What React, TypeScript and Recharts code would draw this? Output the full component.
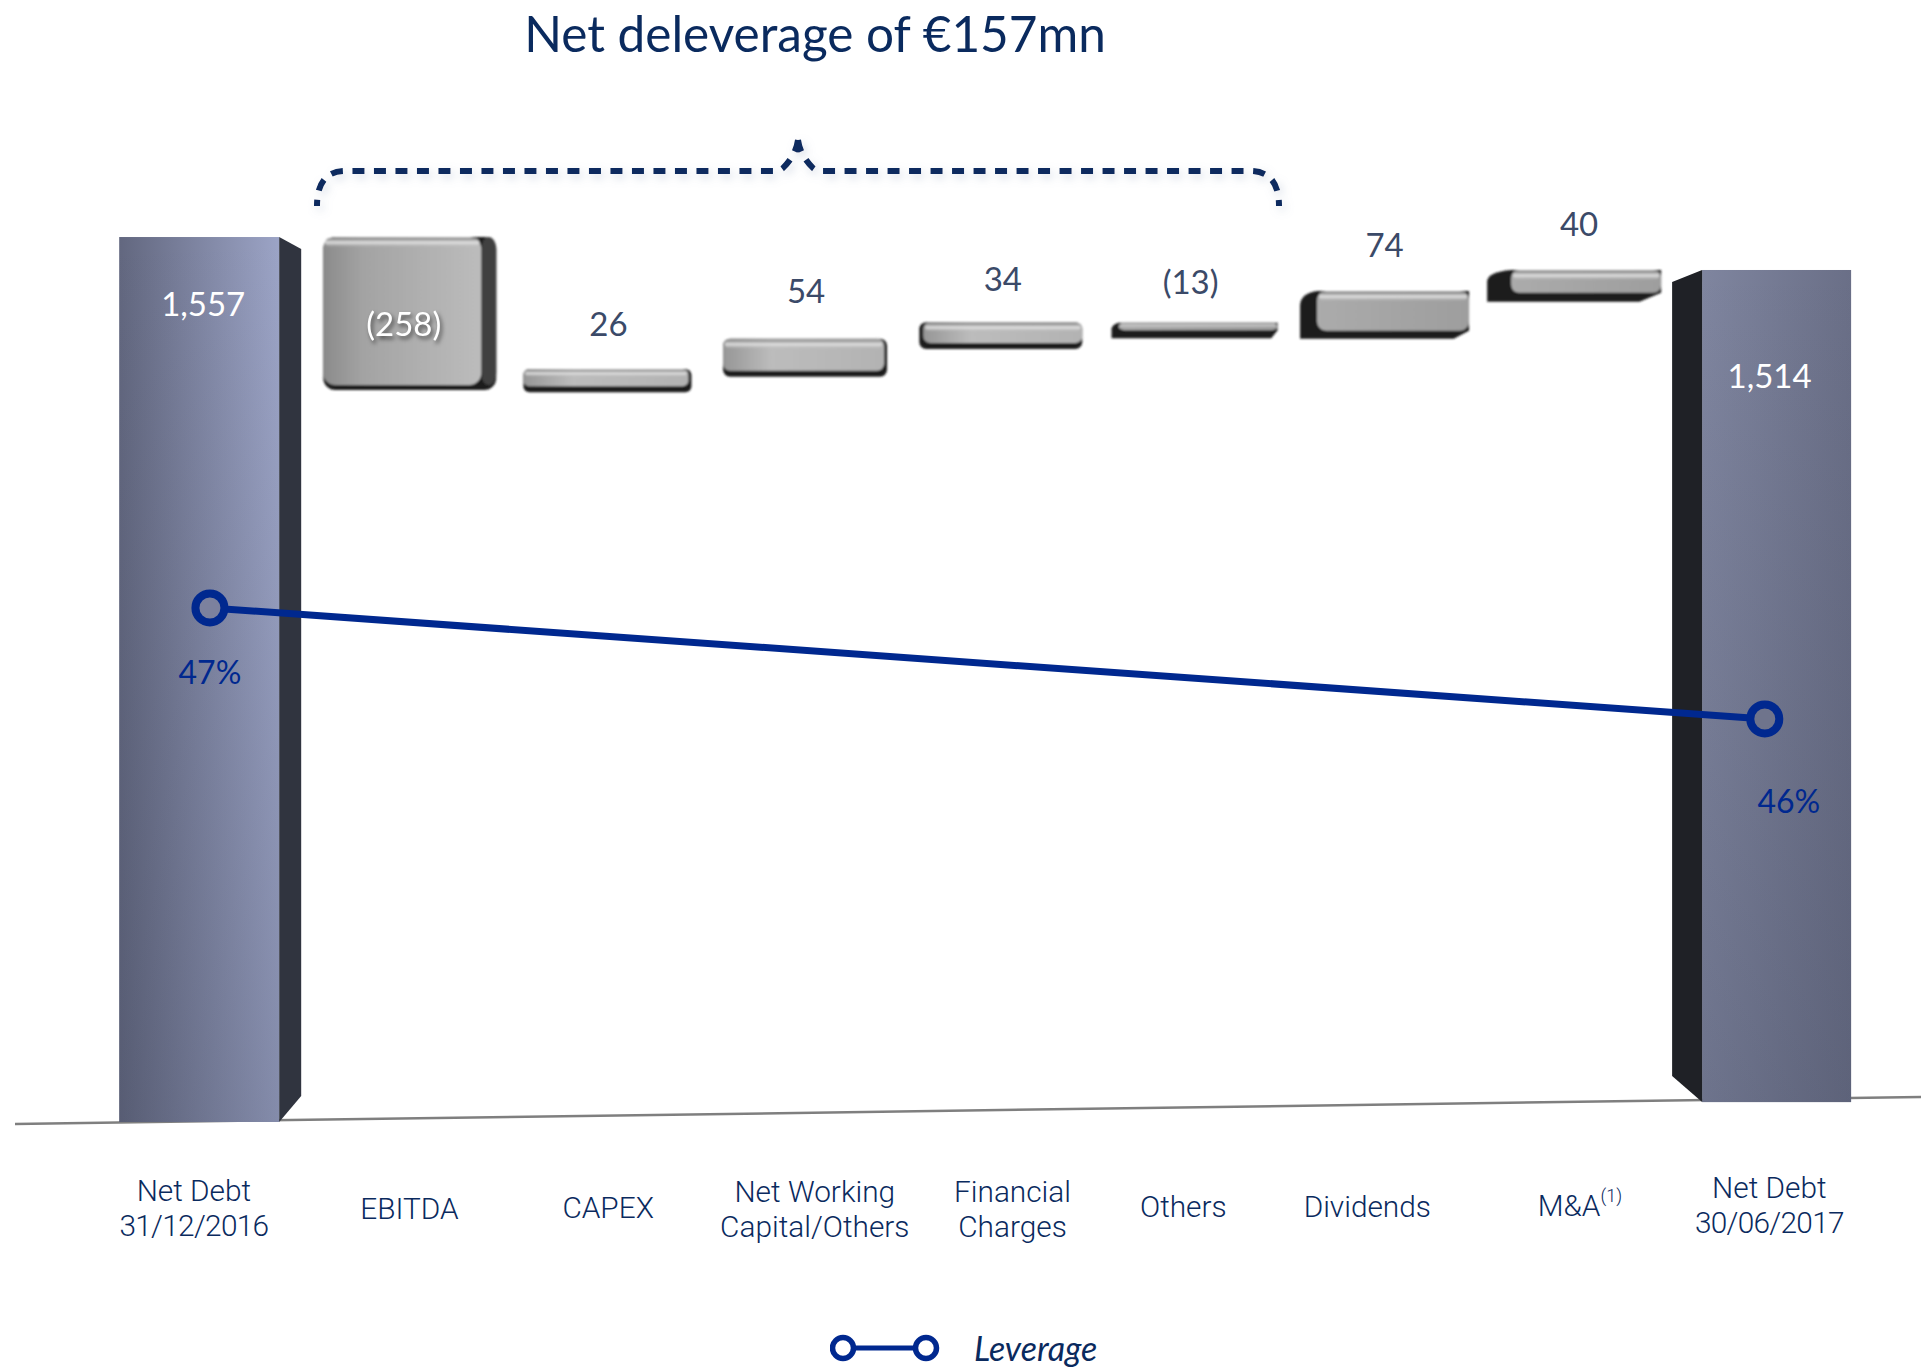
import { Bar, ComposedChart, LabelList, Legend, Line, XAxis, YAxis } from 'recharts';

// where each column stands on the (slightly foreshortened) floor, in category units
const xSlots = [0, 1.04, 2.07, 3.1, 4.12, 5.13, 6.12, 7.108, 8.085];
const categories = [
  ['Net Debt', '31/12/2016'],
  ['EBITDA'],
  ['CAPEX'],
  ['Net Working', 'Capital/Others'],
  ['Financial', 'Charges'],
  ['Others'],
  ['Dividends'],
  ['M&A'],
  ['Net Debt', '30/06/2017'],
];
const valueLabels = ['1,557', '(258)', '26', '54', '34', '(13)', '74', '40', '1,514'];
// bar extents as they stand in the picture, tilted floor included
const lows = [0, 1288, 1284, 1311, 1360, 1379, 1378, 1443, 35];
const highs = [1557, 1557, 1325, 1378, 1407, 1406, 1462, 1499, 1499];

const leverageSlots = [0, 8.103];
const leverage = [47, 46];

const chartData = xSlots.map((slot, i) => ({
  slot,
  range: [lows[i], highs[i]],
  label: valueLabels[i],
}));
const leverageData = leverageSlots.map((slot, i) => ({ slot, leverage: leverage[i] }));

const NAVY = '#0a2a5e';
const BLUE = '#00288f';
const SLATE = '#3b4a68';
const GILL = 'Lato, sans-serif';
const HELV = 'Roboto, sans-serif';
const X_DOMAIN = [-1.094, 8.917];

// look of each block: extra width, dark side (negative = left side), dark bottom, corner
const LOOK = [
  { grow: 14, side: 22, bottom: 0, r: 0 },
  { grow: 5, side: 15, bottom: 5, r: 12 },
  { grow: 0, side: 3, bottom: 6, r: 6 },
  { grow: -4, side: 3, bottom: 6, r: 7 },
  { grow: -5, side: -4, bottom: 6, r: 7 },
  { grow: -2, side: -7, bottom: 8, r: 6 },
  { grow: 1, side: -17, bottom: 8, r: 9 },
  { grow: 6, side: -24, bottom: 9, r: 8 },
  { grow: 11, side: -30, bottom: 0, r: 0 },
];
// nudges of the texts against the column centre
const VALUE_SHIFT = [
  [-7, 66],
  [-6, 86],
  [1, -46],
  [1, -49],
  [2, -44],
  [-4, -42],
  [0, -47],
  [5, -47],
  [8, 105],
];
const TICK_SHIFT = [
  [-16, 0],
  [0, 0],
  [1, -1],
  [10, 1],
  [12, 1],
  [-11, -2],
  [-17, -2],
  [6, -3],
  [8, -3],
];
const LEVERAGE_SHIFT = [
  [0, 64],
  [24, 82],
];
const DOT_FILL = ['#7c819e', '#6f748c'];

function Block(props: any) {
  const { x, y, width, height, index } = props;
  const look = LOOK[index];
  const left = x - look.grow / 2;
  const w = width + look.grow;
  const sideW = Math.abs(look.side);
  const sideLeft = look.side < 0;
  const bottom = y + height;

  if (index === 0 || index === 8) {
    const faceX = sideLeft ? left + sideW : left;
    const edgeX = sideLeft ? left : left + w;
    const innerX = sideLeft ? left + sideW : left + w - sideW;
    const side = `M${innerX} ${y}L${edgeX} ${y + 12}L${edgeX} ${bottom - 26}L${innerX} ${bottom}Z`;
    return (
      <g>
        <rect x={faceX} y={y} width={w - sideW} height={height} fill={`url(#total${index})`} />
        <rect x={faceX} y={y} width={w - sideW} height={height} fill="url(#totalFade)" />
        <path d={side} fill={sideLeft ? '#1f2126' : '#30343f'} />
      </g>
    );
  }

  const faceX = sideLeft ? left + sideW : left;
  const faceW = w - sideW;
  const faceH = height - look.bottom;
  const glow = Math.min(9, faceH * 0.4);
  const faceFill = index === 1 ? 'url(#ebitdaFace)' : index < 5 ? 'url(#stepLight)' : 'url(#stepFace)';
  // right hand blocks are seen from the other side: chamfered top left, tapered bottom right
  const chamfered = `M${left + sideW} ${y}L${left + w} ${y}L${left + w} ${bottom - look.bottom}L${left + w - sideW * 0.9} ${bottom}L${left} ${bottom}L${left} ${y + Math.min(height * 0.35, 14)}Q${left + 1} ${y + 2} ${left + sideW} ${y}Z`;
  return (
    <g filter="url(#soft)">
      {sideLeft && index > 4 ? (
        <path d={chamfered} fill="#1d1d1d" />
      ) : (
        <rect x={left} y={y} width={w} height={height} rx={look.r} fill="#1f1f1f" />
      )}
      {index === 1 && <rect x={left + w - sideW} y={y} width={sideW} height={faceH} rx={look.r} fill="#404040" />}
      <rect x={faceX} y={y} width={faceW} height={faceH} rx={look.r} fill={faceFill} />
      <rect x={faceX + 2} y={y + 1} width={faceW - 4} height={glow} rx={glow / 2} fill="url(#topGlow)" />
    </g>
  );
}

function ValueLabel(props: any) {
  const { x, y, width, index, value } = props;
  const [dx, dy] = VALUE_SHIFT[index];
  const inside = index === 0 || index === 1 || index === 8;
  return (
    <text
      x={x + width / 2 + dx}
      y={y + dy}
      textAnchor="middle"
      dominantBaseline="central"
      fontFamily={GILL}
      fontSize={33}
      fill={inside ? '#ffffff' : SLATE}
      style={index === 1 ? { filter: 'drop-shadow(2px 3px 2px rgba(0,0,0,0.55))' } : undefined}
    >
      {value}
    </text>
  );
}

function LeverageLabel(props: any) {
  const { x, y, index, value } = props;
  const [dx, dy] = LEVERAGE_SHIFT[index];
  return (
    <text x={x + dx} y={y + dy} textAnchor="middle" dominantBaseline="central" fontFamily={GILL} fontSize={32} fill={BLUE}>
      {`${value}%`}
    </text>
  );
}

function LeverageDot(props: any) {
  const { cx, cy, index } = props;
  return <circle key={index} cx={cx} cy={cy} r={14.5} fill={DOT_FILL[index]} stroke={BLUE} strokeWidth={8} />;
}

function CategoryTick(props: any) {
  const { x, y, index } = props;
  const lines = categories[index];
  const [dx, dy] = TICK_SHIFT[index];
  const centerY = y + 78 + dy;
  const firstY = centerY - ((lines.length - 1) * 34.5) / 2;
  return (
    <text x={x + dx} textAnchor="middle" fontFamily={HELV} fontWeight={300} fontSize={29.8} fill={NAVY}>
      {lines.map((line, i) => (
        <tspan
          key={line}
          x={x + dx}
          y={firstY + i * 34.5}
          dominantBaseline="central"
          letterSpacing={/\d/.test(line) ? -0.7 : 0}
        >
          {line}
          {line === 'M&A' && (
            <tspan fontSize={18} dy={-10}>
              (1)
            </tspan>
          )}
        </tspan>
      ))}
    </text>
  );
}

function LeverageLegend() {
  return (
    <svg width={300} height={50} style={{ display: 'block' }}>
      <line x1={13} x2={96} y1={25} y2={25} stroke={BLUE} strokeWidth={5} />
      <circle cx={13} cy={25} r={10.5} fill="#ffffff" stroke={BLUE} strokeWidth={5.5} />
      <circle cx={96} cy={25} r={10.5} fill="#ffffff" stroke={BLUE} strokeWidth={5.5} />
      <text x={144} y={24} dominantBaseline="central" fontFamily={GILL} fontStyle="italic" fontSize={34} fill={NAVY}>
        Leverage
      </text>
    </svg>
  );
}

export default function App() {
  return (
    <div style={{ position: 'absolute', left: 0, top: 0, width: 1921, height: 1367, background: '#fff' }}>
      <ComposedChart width={1921} height={1367} data={chartData} margin={{ top: 0, right: 0, bottom: 0, left: 0 }}>
        <defs>
          <linearGradient id="total0" x1="0" x2="1" y1="0" y2="0">
            <stop offset="0" stopColor="#62677f" />
            <stop offset="1" stopColor="#9ca4c6" />
          </linearGradient>
          <linearGradient id="total8" x1="0" x2="1" y1="0" y2="0">
            <stop offset="0" stopColor="#7f859f" />
            <stop offset="1" stopColor="#6a6f87" />
          </linearGradient>
          <linearGradient id="totalFade" x1="0" x2="0" y1="0" y2="1">
            <stop offset="0" stopColor="#30364a" stopOpacity="0" />
            <stop offset="1" stopColor="#30364a" stopOpacity="0.22" />
          </linearGradient>
          <linearGradient id="ebitdaFace" x1="0" x2="1" y1="0" y2="0">
            <stop offset="0" stopColor="#8b8b8b" />
            <stop offset="0.25" stopColor="#a3a3a3" />
            <stop offset="1" stopColor="#bcbcbc" />
          </linearGradient>
          <linearGradient id="stepLight" x1="0" x2="1" y1="0" y2="0">
            <stop offset="0" stopColor="#969696" />
            <stop offset="0.3" stopColor="#bcbcbc" />
            <stop offset="1" stopColor="#b3b3b3" />
          </linearGradient>
          <linearGradient id="stepFace" x1="0" x2="1" y1="0" y2="0">
            <stop offset="0" stopColor="#ababab" />
            <stop offset="1" stopColor="#9e9e9e" />
          </linearGradient>
          <linearGradient id="topGlow" x1="0" x2="0" y1="0" y2="1">
            <stop offset="0" stopColor="#7d7d7d" stopOpacity="0.8" />
            <stop offset="0.5" stopColor="#e6e6e6" stopOpacity="0.9" />
            <stop offset="1" stopColor="#c4c4c4" stopOpacity="0" />
          </linearGradient>
          <filter id="soft" x="-5%" y="-20%" width="110%" height="140%">
            <feGaussianBlur stdDeviation="0.8" />
          </filter>
          <filter id="glow" x="-5%" y="-30%" width="110%" height="170%">
            <feDropShadow dx="3" dy="4" stdDeviation="5" floodColor="#8b9ab8" floodOpacity="0.35" />
          </filter>
        </defs>

        <text x={815} y={33} textAnchor="middle" dominantBaseline="central" fontFamily={GILL} fontSize={49.5} fill={NAVY}>
          Net deleverage of €157mn
        </text>
        <path
          d="M798 140Q800 155 813 168Q816 171 823 171L1250 171Q1279 171 1279 206M798 140Q796 155 783 168Q780 171 773 171L345 171Q317 171 317 206"
          fill="none"
          stroke={NAVY}
          strokeWidth={6}
          strokeDasharray="12 9.5"
          filter="url(#glow)"
        />

        <XAxis
          type="number"
          dataKey="slot"
          domain={X_DOMAIN}
          ticks={xSlots}
          interval={0}
          height={245}
          axisLine={false}
          tickLine={false}
          tick={<CategoryTick />}
        />
        <XAxis xAxisId="lev" type="number" dataKey="slot" domain={X_DOMAIN} hide />
        <YAxis yAxisId="debt" hide domain={[0, 1974]} />
        <YAxis yAxisId="lev" hide orientation="right" domain={[42.369, 52.477]} />

        <Bar yAxisId="debt" dataKey="range" barSize={168} legendType="none" shape={<Block />} isAnimationActive={false}>
          <LabelList dataKey="label" content={<ValueLabel />} />
        </Bar>
        <Line
          xAxisId="lev"
          yAxisId="lev"
          data={leverageData}
          dataKey="leverage"
          name="Leverage"
          stroke={BLUE}
          strokeWidth={7}
          dot={LeverageDot}
          activeDot={false}
          isAnimationActive={false}
        >
          <LabelList dataKey="leverage" content={<LeverageLabel />} />
        </Line>

        <line x1={15} y1={1124} x2={1921} y2={1097} stroke="#7f7f7f" strokeWidth={2.5} />

        <Legend
          layout="horizontal"
          verticalAlign="middle"
          align="center"
          content={<LeverageLegend />}
          wrapperStyle={{ left: 830, top: 1323, width: 300, height: 50 }}
        />
      </ComposedChart>
    </div>
  );
}
